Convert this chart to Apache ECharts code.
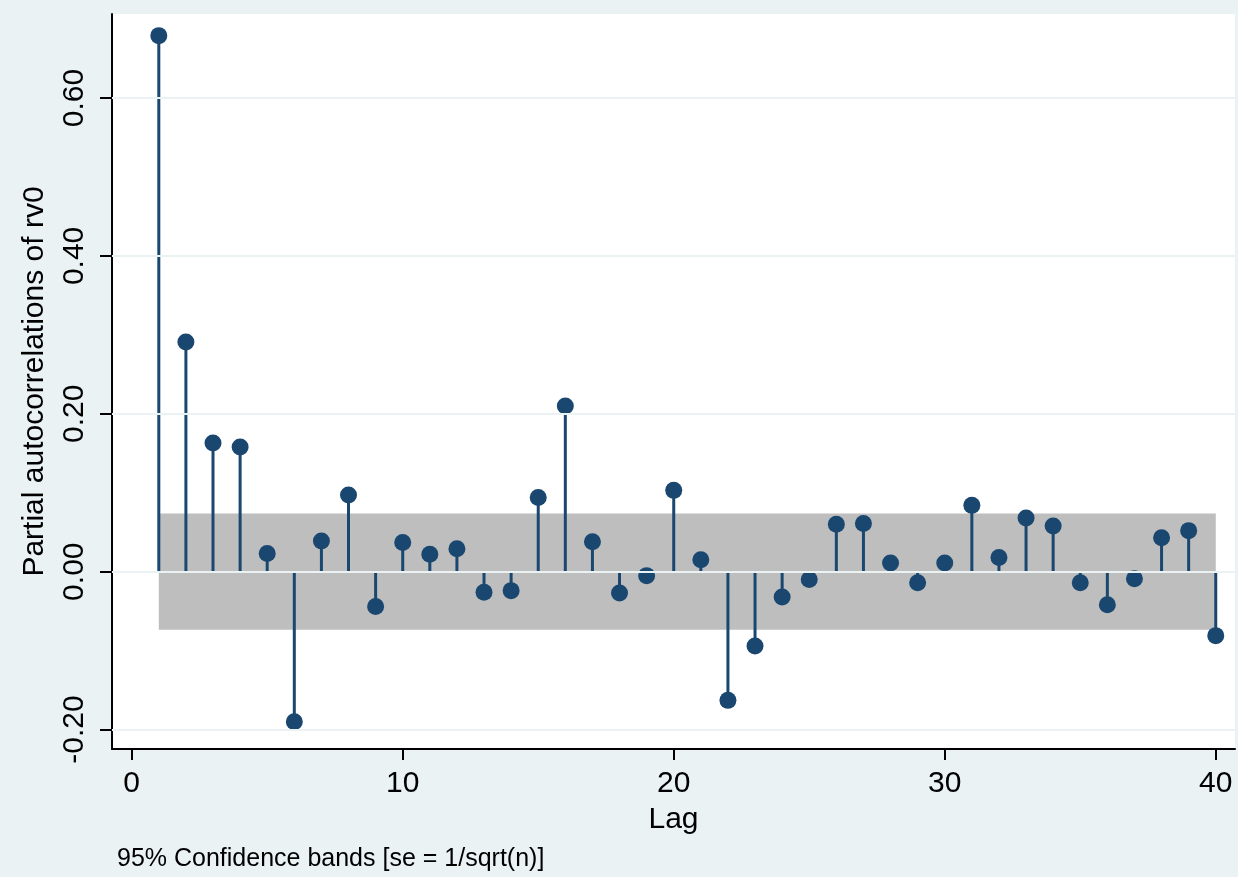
<!DOCTYPE html>
<html>
<head>
<meta charset="utf-8">
<script src="https://cdn.jsdelivr.net/npm/echarts@6/dist/echarts.min.js"></script>
<style>
html,body{margin:0;padding:0;background:#EAF2F3;}
#chart{width:1238px;height:877px;}
</style>
</head>
<body>
<div id="chart"></div>
<script>
const lags = [1,2,3,4,5,6,7,8,9,10,11,12,13,14,15,16,17,18,19,20,21,22,23,24,25,26,27,28,29,30,31,32,33,34,35,36,37,38,39,40];
const pacf = [0.679,0.291,0.163,0.158,0.023,-0.190,0.039,0.097,-0.044,0.037,
              0.022,0.029,-0.026,-0.024,0.094,0.210,0.038,-0.027,-0.005,0.103,
              0.015,-0.163,-0.094,-0.032,-0.010,0.060,0.061,0.011,-0.014,0.011,
              0.084,0.018,0.068,0.058,-0.014,-0.042,-0.009,0.043,0.052,-0.081];
const bandUpper = 0.0737;
const bandLower = -0.0737;
const xTicks = [0,10,20,30,40];
const yTicks = [-0.2,0,0.2,0.4,0.6];
const yTitle = 'Partial autocorrelations of rv0';
const xTitle = 'Lag';
const note = '95% Confidence bands [se = 1/sqrt(n)]';

const FONT = '"Liberation Sans", Arial, sans-serif';
const chart = echarts.init(document.getElementById('chart'));
const pts = lags.map((l,i)=>[l,pacf[i]]);
chart.setOption({
  backgroundColor: '#EAF2F3',
  animation: false,
  grid: {left:112, top:14, right:3, bottom:128, show:true, backgroundColor:'#ffffff', borderWidth:0},
  xAxis: {
    type:'value', min:-0.727, max:40.71,
    name: xTitle, nameLocation:'middle', nameGap:56,
    nameTextStyle:{fontFamily:FONT, fontSize:30, color:'#000'},
    axisLine:{show:true, onZero:false, lineStyle:{color:'#000', width:2}},
    axisTick:{show:true, length:11, customValues:xTicks, lineStyle:{color:'#000', width:2}},
    axisLabel:{customValues:xTicks, fontFamily:FONT, fontSize:30, color:'#000', margin:20},
    splitLine:{show:false}
  },
  yAxis: {
    type:'value', min:-0.2246, max:0.7064,
    name: yTitle, nameLocation:'middle', nameGap:62,
    nameTextStyle:{fontFamily:FONT, fontSize:30, color:'#000'},
    axisLine:{show:true, onZero:false, lineStyle:{color:'#000', width:2}},
    axisTick:{show:true, length:12, customValues:yTicks, lineStyle:{color:'#000', width:2}},
    axisLabel:{customValues:yTicks, rotate:90, fontFamily:FONT, fontSize:30, color:'#000', margin:22,
      formatter: v => v.toFixed(2)},
    splitLine:{show:false}
  },
  series: [
    {
      type:'line', data:[], silent:true,
      markLine:{silent:true, symbol:'none', label:{show:false},
        lineStyle:{color:'#EAF2F3', width:2, type:'solid'},
        data: yTicks.map(v=>({yAxis:v}))},
      markArea:{silent:true, itemStyle:{color:'#BEBEBE'},
        data:[[{coord:[lags[0], bandLower]},{coord:[lags[lags.length-1], bandUpper]}]]},
      z:1
    },
    {
      type:'bar', data:pts, barWidth:3, itemStyle:{color:'#1A476F', opacity:1}, silent:true, z:3
    },
    {
      type:'scatter', data:pts, symbol:'circle', symbolSize:17, itemStyle:{color:'#1A476F', opacity:1}, silent:true, z:4
    }
  ],
  graphic: [
    {type:'text', left:117, top:847, style:{text:note, font:'25px "Liberation Sans", Arial, sans-serif', fill:'#000'}}
  ]
});
</script>
</body>
</html>
